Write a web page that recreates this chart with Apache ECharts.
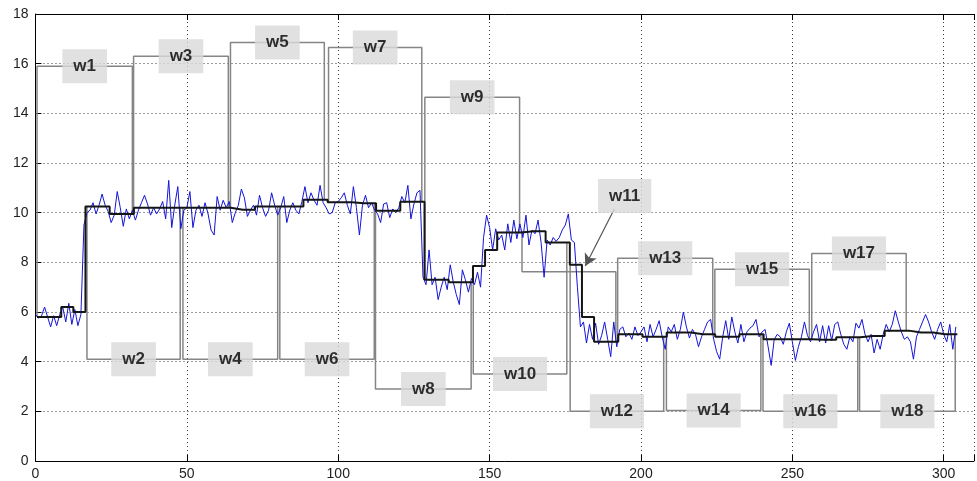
<!DOCTYPE html>
<html><head><meta charset="utf-8">
<script src="https://cdn.jsdelivr.net/npm/echarts@6/dist/echarts.min.js"></script>
<style>html,body{margin:0;padding:0;background:#fff}#c{width:977px;height:481px}</style>
</head><body><div id="c"></div>
<script>
// measured signal, one sample per index 0..304
const signal = [
5.9,5.75,5.85,6.2,5.8,5.4,5.85,5.45,5.9,6.2,
5.6,6.35,5.5,6.1,5.45,5.9,9.5,10.0,10.1,10.4,
9.95,10.3,10.75,10.3,10.05,9.6,9.9,10.85,10.2,9.45,
10.15,9.75,10.1,9.7,10.1,10.4,10.7,10.35,9.9,10.2,
9.95,10.15,10.45,9.75,11.3,9.4,10.3,11.05,9.35,10.1,
10.2,10.85,9.4,10.1,10.3,9.85,10.4,9.95,9.3,9.1,
10.65,10.1,10.5,10.2,10.45,9.6,10.0,10.3,10.95,10.6,
9.85,10.1,10.3,9.9,10.7,10.2,9.85,10.1,10.8,10.3,
9.9,10.2,10.65,9.6,10.1,10.4,10.1,9.95,10.45,11.05,
10.4,10.8,10.5,10.3,11.1,10.4,10.2,9.95,10.0,10.4,
10.45,10.6,10.8,10.3,9.95,11.05,10.2,9.1,10.3,10.7,
10.2,10.4,10.1,9.95,9.6,10.35,10.4,9.8,10.15,10.0,
10.2,10.65,10.4,11.1,9.75,10.35,10.8,10.9,7.4,7.1,
8.5,7.1,7.4,6.5,7.0,7.4,6.9,7.9,7.2,6.7,
6.3,7.7,7.3,6.8,7.35,7.1,7.6,7.0,9.0,9.9,
9.4,8.5,9.35,8.9,9.1,8.5,9.55,8.8,9.7,8.95,
9.55,9.0,9.9,8.7,9.3,9.15,9.7,8.8,7.4,8.9,
8.7,9.0,8.85,9.0,9.3,9.5,9.95,8.9,8.8,7.0,
5.4,5.6,4.75,5.5,4.9,5.55,4.7,5.05,5.6,4.9,
4.2,5.6,4.6,5.3,5.4,5.0,5.15,4.9,5.4,5.05,
5.2,5.4,4.8,5.5,5.0,5.3,5.65,5.0,4.5,5.4,
5.2,5.5,4.9,5.3,6.0,5.4,4.95,5.3,5.1,4.6,
5.0,5.3,5.6,5.7,4.9,4.4,4.1,5.0,5.65,4.9,
5.8,5.2,4.75,5.5,4.8,5.2,5.35,5.45,5.7,5.0,
5.2,5.3,4.6,3.85,4.9,5.1,5.0,4.7,5.2,5.55,
4.8,4.05,4.6,5.0,5.6,5.05,4.8,5.2,5.5,4.8,
5.45,4.75,5.45,4.85,5.5,5.6,5.1,4.7,4.5,5.0,
4.8,5.55,5.35,5.7,5.1,4.8,5.1,4.35,4.9,4.5,
5.1,5.5,5.2,5.5,6.05,5.6,5.2,4.9,5.0,4.8,
4.1,5.0,5.3,5.6,5.9,5.6,5.2,4.9,5.3,5.6,
5.1,4.8,5.5,4.5,5.4
];
// smoothed estimate, one level per block of 4 samples starting at 0.5
const blockOrigin = 0.5;
const blockSize = 4;
const smoothLevels = [
5.8,5.8,6.2,6.0,
10.25,10.25,9.95,9.95,
10.2,10.2,10.2,10.2,
10.2,10.2,10.2,10.2,
10.12,10.12,10.25,10.25,
10.25,10.25,10.52,10.52,
10.42,10.42,10.38,10.38,
10.08,10.08,10.44,10.44,
7.3,7.3,7.2,7.2,
7.85,8.5,9.2,9.2,
9.25,9.25,8.8,8.8,
7.9,5.8,4.8,4.8,
5.1,5.1,5.0,5.0,
5.17,5.17,5.1,5.1,
5.0,5.0,5.1,5.1,
4.9,4.9,4.9,4.9,
4.88,4.88,4.98,4.98,
5.03,5.03,5.25,5.25,
5.17,5.17,5.1,5.1
];
const windowNames = ['w1','w2','w3','w4','w5','w6','w7','w8','w9','w10','w11','w12','w13','w14','w15','w16','w17','w18'];
const windowStart = [0.5,17,32.4,48.7,64.4,80.7,96.8,112.3,128.6,144.6,160.7,176.6,192.3,208.4,224.4,240.3,256.4,272.2];
const windowEnd   = [32,47.8,63.7,80,95.4,111.9,127.6,143.9,159.9,175.5,191.7,207.5,223.7,239.6,255.6,271.6,287.6,303.8];
const windowLevel = [15.9,4.1,16.3,4.1,16.85,4.1,16.65,2.9,14.65,3.5,7.62,2.0,8.16,2.03,7.72,2.0,8.36,2.0];
// callout for w11 (data units)
const w11Label = [194.6, 10.67];
const w11ArrowFrom = [191.2, 10.15];
const w11ArrowTo = [181.6, 7.85];

function smoothAt(x){
  let k = Math.floor((x - blockOrigin) / blockSize);
  k = Math.max(0, Math.min(smoothLevels.length - 1, k));
  return smoothLevels[k];
}

const FONT = "'Liberation Sans', Arial, sans-serif";
const series = [];
windowNames.forEach((nm, i) => {
  const s = windowStart[i], e = windowEnd[i], L = windowLevel[i];
  const ser = {
    type: 'line', name: nm, silent: true, showSymbol: false, symbol: 'none',
    lineStyle: { color: '#858585', width: 1.5 }, z: 2,
    data: [[s, smoothAt(s)], [s, L], [e, L], [e, smoothAt(e)]]
  };
  if (nm === 'w11') {
    ser.markLine = {
      silent: true, symbol: ['none', 'arrow'], symbolSize: [10, 12],
      lineStyle: { color: '#555', width: 1.2, type: 'solid' },
      label: { show: false },
      data: [[{ coord: w11ArrowFrom }, { coord: w11ArrowTo }]]
    };
  }
  series.push(ser);
});
series.push({
  type: 'line', name: 'signal', showSymbol: false, symbol: 'none', silent: true,
  lineStyle: { color: '#1414d8', width: 1 }, z: 3,
  data: signal.map((v, i) => [i, v])
});
const smoothData = smoothLevels.map((v, k) => [blockOrigin + k * blockSize, v]);
smoothData.push([blockOrigin + smoothLevels.length * blockSize, smoothLevels[smoothLevels.length - 1]]);
series.push({
  type: 'line', name: 'smooth', step: 'end', showSymbol: false, symbol: 'none', silent: true,
  lineStyle: { color: '#151515', width: 2 }, z: 4, data: smoothData
});
series.push({
  type: 'scatter', name: 'labels', silent: true, symbolSize: 1, z: 10,
  itemStyle: { color: 'rgba(0,0,0,0)' },
  labelLayout: { hideOverlap: false },
  label: {
    show: true, position: 'inside', formatter: p => p.data.value ? p.data.value[2] : p.data[2],
    backgroundColor: '#dadada', padding: [9, 11, 8, 11],
    color: '#000', fontWeight: 'bold', fontSize: 17, fontFamily: FONT, offset: [0, 3]
  },
  data: windowNames.map((nm, i) => nm === 'w11'
    ? { value: [w11Label[0], w11Label[1], nm], label: { offset: [0, 0] } }
    : [(windowStart[i] + windowEnd[i]) / 2, windowLevel[i], nm])
});

const gridDash = { color: '#3a3a3a', width: 1, type: [1, 3] };
const option = {
  animation: false,
  backgroundColor: '#fff',
  grid: { left: 35.5, top: 14, width: 951.7, height: 447 },
  xAxis: [{
    type: 'value', min: 0, max: 310, interval: 50, position: 'bottom',
    axisLine: { show: true, lineStyle: { color: '#000', width: 1 } },
    axisTick: { show: true, inside: true, length: 6, lineStyle: { color: '#000' } },
    axisLabel: { color: '#222', fontSize: 14, fontFamily: FONT, margin: 6,
      formatter: v => (v % 50 === 0 ? String(v) : '') },
    splitLine: { show: true, lineStyle: gridDash }
  }, {
    type: 'value', min: 0, max: 310, interval: 50, position: 'top',
    axisLine: { show: true, onZero: false, lineStyle: { color: '#000', width: 1 } },
    axisTick: { show: true, inside: true, length: 6, lineStyle: { color: '#000' } },
    axisLabel: { show: false }, splitLine: { show: false }
  }],
  yAxis: {
    type: 'value', min: 0, max: 18, interval: 2,
    axisLine: { show: true, lineStyle: { color: '#000', width: 1 } },
    axisTick: { show: true, inside: true, length: 6, lineStyle: { color: '#000' } },
    axisLabel: { color: '#222', fontSize: 14, fontFamily: FONT, margin: 7 },
    splitLine: { show: true, lineStyle: gridDash }
  },
  series: series
};
const chart = echarts.init(document.getElementById('c'), null, { renderer: 'canvas' });
chart.setOption(option);
</script>
</body></html>
